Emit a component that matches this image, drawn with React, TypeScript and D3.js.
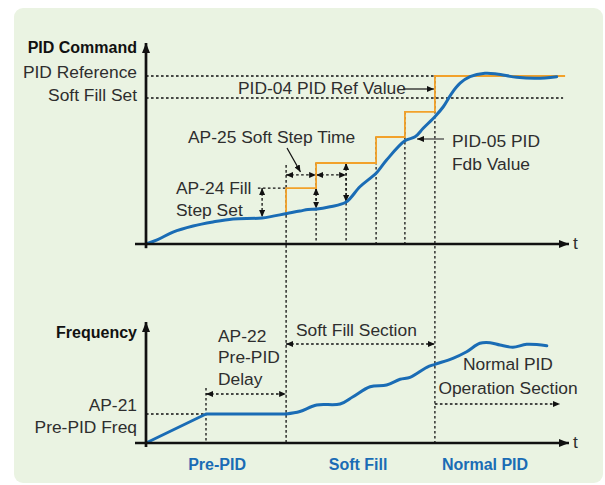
import * as d3 from "d3"

// time axis in "step" units, value axes in percent
const topTime = [0, 0.37, 0.9, 1.57, 2.23, 2.9, 3.87, 4.7, 5.13, 5.4, 5.7, 6.13, 6.66, 7.13, 7.47, 7.67, 8.02, 8.63, 8.97, 9.24, 9.63, 9.91, 10.19, 10.47, 10.8, 11.3, 11.69, 12.36, 13.02, 13.69]
const topFeedback = [0, 2.4, 7.1, 10.7, 13.1, 14.9, 15.5, 18.2, 19.6, 20.6, 20.8, 22.2, 24.8, 34.1, 39.1, 42.1, 50, 61.4, 63.8, 68.9, 75.8, 81.7, 89.7, 95.7, 99.6, 101.6, 101.2, 99.2, 98.6, 99.6]

const stepTimes = [4.67, 5.67, 7.67, 8.63, 9.63]
const stepLevels = [33.3, 48.2, 63.7, 78.6, 100]
const stepStart = 18.2
const stepEnd = 13.97

const pidReference = 100
const softFillSet = 86.9

const botTime = [4.67, 5.13, 5.69, 6.47, 6.9, 7.47, 8.02, 8.47, 8.8, 9.36, 9.63, 10.23, 10.69, 11.13, 11.47, 11.8, 12.23, 12.69, 13.36]
const botFreq = [29, 31.5, 38, 39, 46.3, 56.3, 58, 63.7, 65.7, 75.7, 78.7, 84.7, 91.3, 99.7, 100.3, 98, 95.7, 98.7, 97.3]
const prePidTime = [0, 2.0, 4.67]
const prePidFreq = [0, 29, 29]

const phaseNames = ["Pre-PID", "Soft Fill", "Normal PID"]
const phaseCenters = [2.37, 7.07, 11.3]

const W = 605
const H = 485
const FONT = "'Liberation Sans', Arial, sans-serif"
const BLUE = "#1a6cb5"
const ORANGE = "#f2a12a"
const TEXT = "#2e2e2e"

export default function App() {
  const x = d3.scaleLinear().domain([0, 14.3]).range([146, 575])
  const yTop = d3.scaleLinear().domain([0, 100]).range([244, 76])
  const yBot = d3.scaleLinear().domain([0, 100]).range([443, 343])

  const topLine = d3
    .line<number>()
    .x((_, i) => x(topTime[i]))
    .y((d) => yTop(d))
    .curve(d3.curveCatmullRom.alpha(0.5))

  const stepPts: [number, number][] = [[stepTimes[0], stepStart]]
  stepTimes.forEach((t, i) => stepPts.push([t, stepLevels[i]]))
  stepPts.push([stepEnd, pidReference])
  const stepLine = d3
    .line<[number, number]>()
    .x((d) => x(d[0]))
    .y((d) => yTop(d[1]))
    .curve(d3.curveStepAfter)

  const botLine = d3
    .line<number>()
    .x((_, i) => x(botTime[i]))
    .y((d) => yBot(d))
    .curve(d3.curveCatmullRom.alpha(0.5))
  const preLine = d3
    .line<number>()
    .x((_, i) => x(prePidTime[i]))
    .y((d) => yBot(d))

  const dot = { stroke: "#111", strokeWidth: 1.3, strokeDasharray: "2.6,2.4", fill: "none" }
  const txt = { fontFamily: FONT, fontSize: 17.4, fill: TEXT }
  const bold = { fontFamily: FONT, fontSize: 16, fontWeight: 700, fill: "#111" }

  // steps with a vertical dotted marker (top panel)
  const stepMarks = [
    { t: stepTimes[1], top: stepLevels[1] },
    { t: stepTimes[1] + 1, top: stepLevels[1] },
    { t: stepTimes[2], top: stepLevels[2] },
    { t: stepTimes[3], top: stepLevels[3] },
  ]

  return (
    <svg width={W} height={H} style={{ position: "absolute", left: 0, top: 0, background: "#fff" }}>
      <defs>
        <marker id="ax" viewBox="0 0 10 8" refX="10" refY="4" markerWidth="10" markerHeight="8" markerUnits="userSpaceOnUse" orient="auto-start-reverse">
          <path d="M0,0 L10,4 L0,8 Z" fill="#111" />
        </marker>
        <marker id="ar" viewBox="0 0 7 6" refX="7" refY="3" markerWidth="7" markerHeight="6" markerUnits="userSpaceOnUse" orient="auto-start-reverse">
          <path d="M0,0 L7,3 L0,6 Z" fill="#111" />
        </marker>
      </defs>
      <rect x={14} y={8} width={589} height={475} rx={9} fill="#eaf3e2" />

      {/* top panel reference lines */}
      <line x1={x(0)} x2={x(stepEnd) - 2} y1={yTop(pidReference)} y2={yTop(pidReference)} {...dot} />
      <line x1={x(0)} x2={x(stepEnd) - 2} y1={yTop(softFillSet)} y2={yTop(softFillSet)} {...dot} />

      {/* long phase boundaries */}
      <line x1={x(stepTimes[0])} x2={x(stepTimes[0])} y1={yTop(47)} y2={yBot(0)} {...dot} />
      <line x1={x(stepTimes[4])} x2={x(stepTimes[4])} y1={yTop(pidReference)} y2={yBot(0)} {...dot} />
      {stepMarks.map((m, i) => (
        <line key={i} x1={x(m.t)} x2={x(m.t)} y1={yTop(m.top)} y2={yTop(0)} {...dot} />
      ))}

      {/* soft step time arrows */}
      <line x1={x(stepTimes[0])} x2={x(stepTimes[1])} y1={yTop(41.1)} y2={yTop(41.1)} {...dot} markerStart="url(#ar)" markerEnd="url(#ar)" />
      <line x1={x(stepTimes[1])} x2={x(stepTimes[1] + 1)} y1={yTop(41.1)} y2={yTop(41.1)} {...dot} markerStart="url(#ar)" markerEnd="url(#ar)" />
      <line x1={287} y1={148} x2={300.5} y2={172} stroke="#111" strokeWidth={1.2} markerEnd="url(#ar)" />

      {/* fill step set arrows */}
      <line x1={x(3.73)} x2={x(stepTimes[0])} y1={yTop(stepLevels[0])} y2={yTop(stepLevels[0])} {...dot} />
      <line x1={x(3.87)} x2={x(3.87)} y1={yTop(stepLevels[0])} y2={yTop(16)} {...dot} markerStart="url(#ar)" markerEnd="url(#ar)" />
      <line x1={x(stepTimes[1])} x2={x(stepTimes[1])} y1={yTop(stepLevels[0])} y2={yTop(21)} {...dot} markerStart="url(#ar)" markerEnd="url(#ar)" />
      <line x1={x(stepTimes[1] + 1)} x2={x(stepTimes[1] + 1)} y1={yTop(stepLevels[1])} y2={yTop(25)} {...dot} markerStart="url(#ar)" markerEnd="url(#ar)" />

      {/* curves */}
      <path d={stepLine(stepPts) || ""} fill="none" stroke={ORANGE} strokeWidth={1.8} />
      <path d={topLine(topFeedback) || ""} fill="none" stroke={BLUE} strokeWidth={3} strokeLinecap="round" />

      {/* annotation arrows */}
      <line x1={403} x2={x(stepTimes[4]) - 1} y1={89} y2={89} stroke="#111" strokeWidth={1.2} markerEnd="url(#ar)" />
      <line x1={444} x2={417} y1={139} y2={139} stroke="#555" strokeWidth={1.4} markerEnd="url(#ar)" />

      {/* top axes */}
      <line x1={x(0)} x2={x(0)} y1={yTop(-2.5)} y2={43} stroke="#111" strokeWidth={2.7} markerEnd="url(#ax)" />
      <line x1={135} x2={569} y1={yTop(0)} y2={yTop(0)} stroke="#111" strokeWidth={2.7} markerEnd="url(#ax)" />

      {/* top labels */}
      <text x={137} y={53} textAnchor="end" style={bold}>PID Command</text>
      <text x={137} y={78} textAnchor="end" style={txt}>PID Reference</text>
      <text x={137} y={101} textAnchor="end" style={txt}>Soft Fill Set</text>
      <text x={238} y={94} style={txt}>PID-04 PID Ref Value</text>
      <text x={188} y={143} style={txt}>AP-25 Soft Step Time</text>
      <text x={176} y={194} style={txt}>AP-24 Fill</text>
      <text x={176} y={216} style={txt}>Step Set</text>
      <text x={452} y={147} style={txt}>PID-05 PID</text>
      <text x={452} y={170} style={txt}>Fdb Value</text>
      <text x={573} y={249} style={txt}>t</text>

      {/* bottom panel */}
      <line x1={x(0)} x2={x(prePidTime[1])} y1={yBot(prePidFreq[1])} y2={yBot(prePidFreq[1])} {...dot} />
      <line x1={x(prePidTime[1])} x2={x(prePidTime[1])} y1={yBot(55)} y2={yBot(0)} {...dot} />
      <line x1={x(prePidTime[1])} x2={x(stepTimes[0])} y1={yBot(49)} y2={yBot(49)} {...dot} markerStart="url(#ar)" markerEnd="url(#ar)" />
      <line x1={x(stepTimes[0])} x2={x(stepTimes[4])} y1={yBot(99)} y2={yBot(99)} {...dot} markerStart="url(#ar)" markerEnd="url(#ar)" />
      <line x1={x(stepTimes[4])} x2={x(13.8)} y1={yBot(39)} y2={yBot(39)} {...dot} markerEnd="url(#ar)" />

      <path d={preLine(prePidFreq) || ""} fill="none" stroke={BLUE} strokeWidth={3} strokeLinejoin="round" />
      <path d={botLine(botFreq) || ""} fill="none" stroke={BLUE} strokeWidth={3} strokeLinecap="round" />

      <line x1={x(0)} x2={x(0)} y1={yBot(-4)} y2={322} stroke="#111" strokeWidth={2.7} markerEnd="url(#ax)" />
      <line x1={135} x2={569} y1={yBot(0)} y2={yBot(0)} stroke="#111" strokeWidth={2.7} markerEnd="url(#ax)" />

      <text x={137} y={338} textAnchor="end" style={bold}>Frequency</text>
      <text x={137} y={411} textAnchor="end" style={txt}>AP-21</text>
      <text x={137} y={433} textAnchor="end" style={txt}>Pre-PID Freq</text>
      <text x={218} y={342} style={txt}>AP-22</text>
      <text x={218} y={363} style={txt}>Pre-PID</text>
      <text x={218} y={385} style={txt}>Delay</text>
      <text x={296} y={336} style={txt}>Soft Fill Section</text>
      <text x={508} y={370} textAnchor="middle" style={txt}>Normal PID</text>
      <text x={508} y={394} textAnchor="middle" style={txt}>Operation Section</text>
      <text x={573} y={448} style={txt}>t</text>

      {phaseNames.map((n, i) => (
        <text key={n} x={x(phaseCenters[i])} y={470} textAnchor="middle" style={{ ...bold, fill: BLUE }}>
          {n}
        </text>
      ))}
    </svg>
  )
}
